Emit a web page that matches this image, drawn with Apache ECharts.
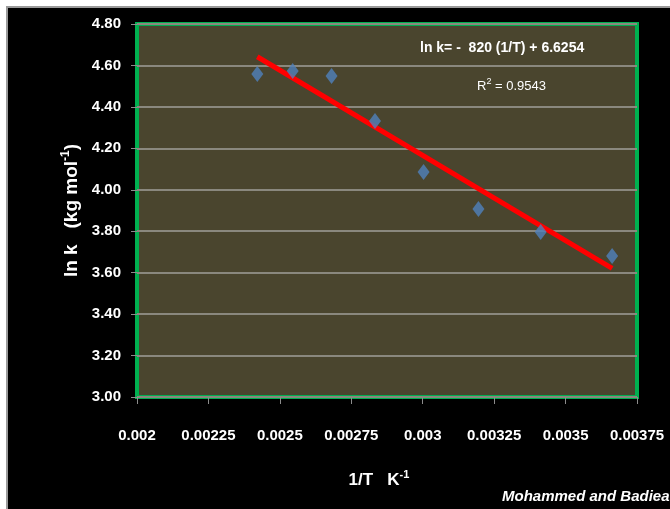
<!DOCTYPE html>
<html>
<head>
<meta charset="utf-8">
<script src="https://cdn.jsdelivr.net/npm/echarts@6/dist/echarts.min.js"></script>
<style>
  html, body { margin: 0; padding: 0; background: #ffffff; }
  #chart { width: 670px; height: 509px; }
</style>
</head>
<body>
<div id="chart"></div>
<script>
// ---- data ----
const invT = [0.002421, 0.002545, 0.002681, 0.002833, 0.003003, 0.003195, 0.003413, 0.003663];
const lnK  = [4.559, 4.573, 4.549, 4.332, 4.086, 3.907, 3.796, 3.680];
const trendX = [0.002421, 0.003663];
const trendY = [4.642, 3.621];
const xTicks = { min: 0.002, max: 0.00375, interval: 0.00025 };
const yTicks = { min: 3.0, max: 4.8, interval: 0.2 };
const equationText = 'ln k= -  820 (1/T) + 6.6254';
const r2Text = '0.9543';
const creditText = 'Mohammed and Badiea';

const FONT = "'Liberation Sans', Arial, sans-serif";

const chart = echarts.init(document.getElementById('chart'), null, { renderer: 'canvas' });

const points = invT.map((x, i) => [x, lnK[i]]);
const trend = trendX.map((x, i) => [x, trendY[i]]);

chart.setOption({
  backgroundColor: '#000000',
  animation: false,
  grid: {
    left: 137, right: 33, top: 24, bottom: 112,
    outerBoundsMode: 'none',
    containLabel: false,
    show: true,
    backgroundColor: '#4a452e',
    borderColor: '#00b050',
    borderWidth: 4
  },
  xAxis: {
    type: 'value',
    min: xTicks.min, max: xTicks.max, interval: xTicks.interval,
    axisLine: { show: false },
    axisTick: { show: true, length: 7, lineStyle: { color: '#8c8c8c', width: 1 } },
    splitLine: { show: false },
    axisLabel: {
      color: '#ffffff', fontFamily: FONT, fontWeight: 'bold', fontSize: 15, margin: 31,
      showMinLabel: true, showMaxLabel: true, hideOverlap: false,
      formatter: v => parseFloat(v.toFixed(6)).toString()
    },
    name: '{b|1/T   K}{s|-1}',
    nameLocation: 'middle',
    nameGap: 72,
    nameTextStyle: {
      padding: [0, 16, 0, 0],
      rich: {
        b: { color: '#ffffff', fontFamily: FONT, fontWeight: 'bold', fontSize: 17, lineHeight: 20, verticalAlign: 'bottom' },
        s: { color: '#ffffff', fontFamily: FONT, fontWeight: 'bold', fontSize: 11, lineHeight: 20, verticalAlign: 'top' }
      }
    }
  },
  yAxis: {
    type: 'value',
    min: yTicks.min, max: yTicks.max, interval: yTicks.interval,
    axisLine: { show: false },
    axisTick: { show: true, length: 6, lineStyle: { color: '#8c8c8c', width: 1 } },
    splitLine: { show: true, lineStyle: { color: '#8a887e', width: 2 } },
    axisLabel: {
      color: '#ffffff', fontFamily: FONT, fontWeight: 'bold', fontSize: 15, margin: 16,
      formatter: v => v.toFixed(2)
    },
    name: '{b|ln k   (kg mol}{s|-1}{b|)}',
    nameLocation: 'middle',
    nameRotate: 90,
    nameGap: 55,
    nameTextStyle: {
      rich: {
        b: { color: '#ffffff', fontFamily: FONT, fontWeight: 'bold', fontSize: 19, lineHeight: 21, verticalAlign: 'bottom' },
        s: { color: '#ffffff', fontFamily: FONT, fontWeight: 'bold', fontSize: 12, lineHeight: 21, verticalAlign: 'top' }
      }
    }
  },
  series: [
    {
      type: 'line',
      data: trend,
      symbol: 'none',
      lineStyle: { color: '#ff0000', width: 5 },
      z: 2
    },
    {
      type: 'scatter',
      data: points,
      symbol: 'diamond',
      symbolSize: [12, 16],
      itemStyle: { color: '#4f81bd' },
      z: 3
    }
  ],
  graphic: [
    { type: 'rect', shape: { x: 0, y: 0, width: 670, height: 6 }, style: { fill: '#ffffff' }, z: 100 },
    { type: 'rect', shape: { x: 0, y: 0, width: 6, height: 509 }, style: { fill: '#ffffff' }, z: 100 },
    { type: 'rect', shape: { x: 6, y: 6, width: 664, height: 2 }, style: { fill: '#9a9a9a' }, z: 100 },
    { type: 'rect', shape: { x: 6, y: 6, width: 2, height: 503 }, style: { fill: '#9a9a9a' }, z: 100 },
    {
      type: 'text', left: 420, top: 41, z: 100,
      style: { text: equationText, fill: '#ffffff', font: "bold 14px " + FONT }
    },
    {
      type: 'text', left: 477, top: 77, z: 100,
      style: {
        text: '{a|R}{s|2}{a| = ' + r2Text + '}',
        rich: {
          a: { fill: '#ffffff', fontFamily: FONT, fontSize: 13, lineHeight: 16, verticalAlign: 'bottom' },
          s: { fill: '#ffffff', fontFamily: FONT, fontSize: 9, lineHeight: 16, verticalAlign: 'top' }
        }
      }
    },
    {
      type: 'text', left: 502, top: 489, z: 100,
      style: { text: creditText, fill: '#ffffff', font: "italic bold 15px " + FONT }
    }
  ]
});
</script>
</body>
</html>
